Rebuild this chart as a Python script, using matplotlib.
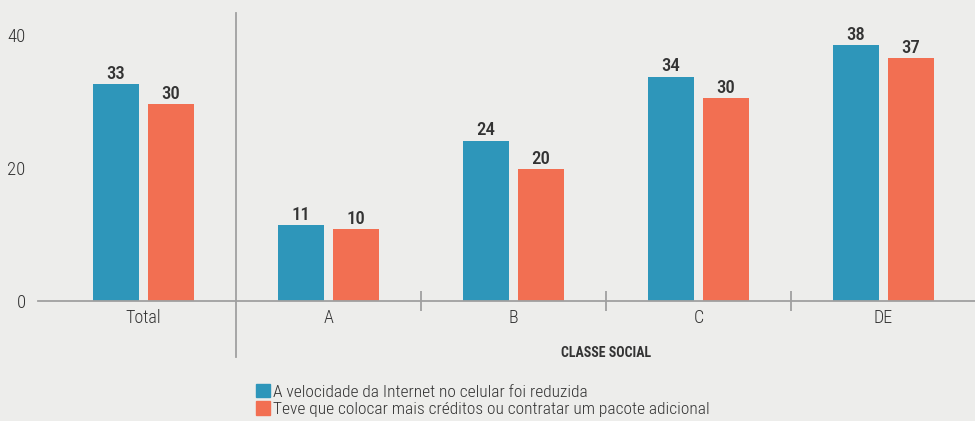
import matplotlib
matplotlib.use("Agg")
import matplotlib.pyplot as plt
from matplotlib.patches import Patch
import numpy as np

categories = ["Total", "A", "B", "C", "DE"]
velocidade = [32.6, 11.4, 24.1, 33.7, 38.5]
creditos = [29.6, 10.8, 19.8, 30.5, 36.5]
velocidade_lbl = ["33", "11", "24", "34", "38"]
creditos_lbl = ["30", "10", "20", "30", "37"]
series_names = ["A velocidade da Internet no celular foi reduzida",
                "Teve que colocar mais créditos ou contratar um pacote adicional"]

BG = "#ededeb"
BLUE = "#2e96ba"
ORANGE = "#f26f52"
TXT = "#333333"
GREY = "#a0a0a0"

plt.rcParams["font.family"] = ["Roboto Condensed", "DejaVu Sans"]
plt.rcParams["font.weight"] = 300

fig = plt.figure(figsize=(9.75, 4.21), dpi=100, facecolor=BG)
ax = fig.add_axes([38 / 975, 1 - 301 / 421, 1 - 38 / 975, 288 / 421], facecolor=BG)

x = np.arange(len(categories))
w = 0.249
off = 0.149
b1 = ax.bar(x - off, velocidade, w, color=BLUE)
b2 = ax.bar(x + off, creditos, w, color=ORANGE)
ax.bar_label(b1, labels=velocidade_lbl, padding=1, fontsize=13.5, fontweight=500, color=TXT)
ax.bar_label(b2, labels=creditos_lbl, padding=1, fontsize=13.5, fontweight=500, color=TXT)

ax.set_xlim(-0.57, 4.495)
ax.set_ylim(0, 43.3)
ax.set_yticks([0, 20, 40])
ax.tick_params(axis="y", length=0, pad=9, labelsize=13.5, labelcolor=TXT)
ax.set_xticks(x)
ax.set_xticklabels(categories)
ax.tick_params(axis="x", which="major", length=0, pad=6, labelsize=13, labelcolor=TXT)
ax.set_xticks([1.5, 2.5, 3.5], minor=True)
ax.tick_params(axis="x", which="minor", direction="inout", length=14, width=1.3, color=GREY)

for s in ["top", "right", "left"]:
    ax.spines[s].set_visible(False)
ax.spines["bottom"].set_color(GREY)
ax.spines["bottom"].set_linewidth(1.3)

# divider between Total and social classes
ax.plot([0.5, 0.5], [1.0, -0.194], transform=ax.get_xaxis_transform(),
        color=GREY, lw=1.3, clip_on=False)

ax.text(2.5, -0.18, "CLASSE SOCIAL", transform=ax.get_xaxis_transform(),
        ha="center", va="center", fontsize=10, fontweight="bold", color=TXT)

handles = [Patch(color=BLUE), Patch(color=ORANGE)]
fig.legend(handles, series_names, loc="upper left", bbox_to_anchor=(256 / 975, 1 - 384 / 421),
           frameon=False, fontsize=12.5, labelcolor=TXT, handlelength=0.8, handleheight=0.8,
           handletextpad=0.2, labelspacing=0.1, borderpad=0, borderaxespad=0)

fig.savefig("out.png", dpi=100, facecolor=BG)
